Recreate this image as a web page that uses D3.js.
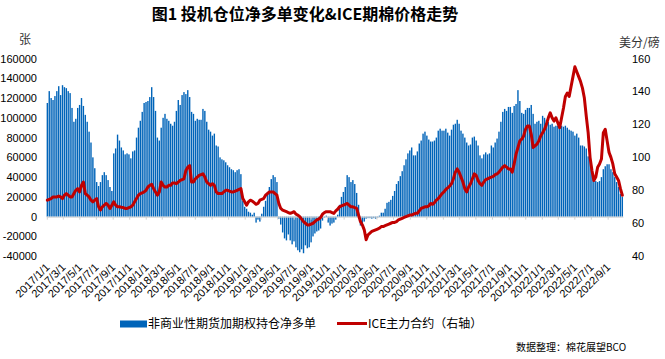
<!DOCTYPE html>
<html><head><meta charset="utf-8">
<script src="https://cdn.jsdelivr.net/npm/d3@7"></script>
<style>
body{margin:0;background:#fff;}
svg{display:block;font-family:"Liberation Sans",Arial,"Noto Sans CJK SC",sans-serif;}
</style></head><body>
<svg id="c" width="665" height="359"></svg>
<script>
// ---- data ----
const firstWeek = "2017-01-03"; // weekly (Tuesday) reports
const netLong = [
115000,127000,120000,118000,122000,127000,132000,123000,133000,131000,
130000,127000,125000,110000,96000,99000,110000,113000,120000,112000,
103000,96000,86000,75000,60000,49000,35000,31000,35000,42000,
45000,42000,37000,30000,26000,64000,69000,83000,77000,70000,
67000,63000,64000,63000,59000,66000,67000,80000,90000,97000,
106000,115000,116000,117000,121000,131000,121000,107000,80000,77000,
90000,100000,104000,99000,97000,94000,92000,96000,107000,118000,
113000,123000,126000,124000,128000,121000,106000,104000,97000,99000,
98000,98000,109000,107000,96000,88000,86000,82000,84000,72000,
71000,60000,58000,57000,55000,52000,50000,48000,47000,45000,
47000,48000,43000,16000,10000,8000,5000,4000,2000,4000,
-6000,-3000,-5000,3000,10000,16000,25000,30000,38000,42000,
40000,35000,-2000,-8000,-16000,-22000,-24000,-18000,-24000,-28000,
-25000,-31000,-34000,-36000,-33000,-37000,-29000,-32000,-31000,-26000,
-20000,-17000,-15000,-14000,-12000,-4000,-1000,1000,-6000,-9000,
-7000,-6000,-3000,2000,12000,20000,25000,30000,42000,40000,
35000,37000,33000,24000,12000,-9000,-7000,-5000,-2000,-1500,
-1500,-2000,-1500,-2000,-1000,1000,4000,4000,8000,14000,
15000,17000,21000,26000,33000,36000,41000,46000,52000,58000,
64000,67000,70000,62000,62000,66000,74000,77000,84000,86000,
82000,78000,76000,76000,77000,80000,87000,89000,87000,87000,
89000,85000,82000,88000,93000,94000,98000,94000,87000,84000,
80000,75000,72000,73000,80000,81000,77000,72000,62000,59000,
63000,65000,63000,64000,72000,70000,75000,79000,86000,96000,
106000,109000,107000,111000,111000,105000,112000,114000,128000,117000,
105000,104000,108000,110000,110000,113000,104000,94000,96000,97000,
94000,102000,100000,98000,96000,93000,94000,91000,92000,92000,
92000,92000,91000,92000,90000,88000,87000,86000,82000,84000,
80000,72000,72000,71000,69000,61000,57000,45000,39000,36000,
35000,36000,40000,48000,51000,53000,53000,48000,45000,40000,
35000,30000,23000,20000];
const icePrice = [
74,74.5,75,76,76,76,76.5,76,75,77,
78,77,76,76,78,80,81,79,83,85,
78,77,76,74,73,74,75,70,68,70,
71,72,71,69,71,73,71,70,70,69.7,
69.5,69,69,69.5,70,71,73,75,77,78,
78.5,79,80,82,83,83.6,81,79,77,79,
85,83,82,82,83,83,84.5,84.5,84,85,
86,86.5,87,92,94,95,85,85,87,88,
89,89.5,90,88,85,84,83,84,83,79,
78,78,78,79,80,80,79.5,79,79,79.5,
80,80.5,81,75,73,71,73,74,73.5,72.5,
71.5,72,74,74.5,75,77,78,79,79,79,
78,77,72,69,68,67.5,67,66.5,66,66.5,
67,65.5,65,64,62.5,61,60,59,59,59.5,
60,61,62,62.5,63.5,65.5,66.5,67,67,67,
66.5,66,67.5,68.5,70,70.5,71,71.5,72,71,
70,70,69.5,69,65,61,59,56,50,53,
54,55,55.5,56,56.5,57,58,58,58.5,59,
59.5,60,60.5,60.5,61,62,62.5,63,63.5,64,
64.5,65,65,65.5,66,66,67.5,69,69.5,70,
70,70.5,72,71.5,72.5,74,75,76.5,78,79,
80.5,81.5,82.5,84,87,91,93,91,88,85,
81,79,82,84,87,90,89,86,84,83,
85,86.5,87,87.5,88,88.5,89.5,90,91,92.5,
94,95,94,93,93,91,96,102,106,110,
111,113,117,119,119,114,106,107,108,110,
113,115,117,120,124,127,124,122,124,121,
118,124,130,137,139,137,143,149,155,152,
149,146,142,136,125,115,100,92,86,88,
94,96,99,115,117,110,103,100,96,90,
88,86,81,77];
const xTickLabels = ["2017/1/1","2017/3/1","2017/5/1","2017/7/1","2017/9/1","2017/11/1",
"2018/1/1","2018/3/1","2018/5/1","2018/7/1","2018/9/1","2018/11/1",
"2019/1/1","2019/3/1","2019/5/1","2019/7/1","2019/9/1","2019/11/1",
"2020/1/1","2020/3/1","2020/5/1","2020/7/1","2020/9/1","2020/11/1",
"2021/1/1","2021/3/1","2021/5/1","2021/7/1","2021/9/1","2021/11/1",
"2022/1/1","2022/3/1","2022/5/1","2022/7/1","2022/9/1"];
const leftTicks = [160000,140000,120000,100000,80000,60000,40000,20000,0,-20000,-40000];
const rightTicks = [160,140,120,100,80,60,40];
const titleText = "图1  投机仓位净多单变化&ICE期棉价格走势";
const seriesNames = ["非商业性期货加期权持仓净多单","ICE主力合约（右轴）"];

// ---- chart ----
const svg = d3.select("#c");
const parse = d3.timeParse("%Y-%m-%d");
const parseTick = d3.timeParse("%Y/%m/%d");
const d0 = parse(firstWeek);
const weeks = netLong.map((_, i) => d3.timeDay.offset(d0, 7 * i));
const x = d3.scaleTime().domain([new Date(2017,0,1), new Date(2022,9,29)]).range([46.8, 623.4]);
const yL = d3.scaleLinear().domain([-40000,160000]).range([256.2,58.5]);
const yR = d3.scaleLinear().domain([40,160]).range([256.2,58.5]);
const blue = "#0064b9", red = "#c00000";

// bars
svg.append("g").selectAll("rect").data(netLong).join("rect")
  .attr("x", (d,i) => x(weeks[i]) - 0.7)
  .attr("width", 1.4)
  .attr("y", d => Math.min(yL(d), yL(0)))
  .attr("height", d => Math.abs(yL(d) - yL(0)))
  .attr("fill", blue);

// zero axis line with ticks
const tickDates = xTickLabels.map(s => parseTick(s));
const ax0 = svg.append("g").attr("transform", `translate(0,${yL(0)})`)
  .call(d3.axisBottom(x).tickValues(tickDates).tickSize(3).tickFormat(""));
ax0.select(".domain").attr("stroke","#d0d0d0").attr("d", `M${x.range()[0]},0.5H${x.range()[1]}`);
ax0.selectAll(".tick line").attr("stroke","#d0d0d0");

// x labels
const axB = svg.append("g").attr("transform", "translate(0,268)")
  .call(d3.axisBottom(x).tickValues(tickDates).tickSize(0).tickFormat((d,i) => xTickLabels[i]));
axB.select(".domain").remove();
axB.selectAll("text")
  .attr("y", 0).attr("dy", 0).attr("x", 0)
  .attr("text-anchor","end")
  .attr("transform","translate(3,0) rotate(-45)")
  .attr("font-size", 11).attr("fill","#000")
  .attr("font-family","'Liberation Sans',Arial,sans-serif");

// price line
const line = d3.line().x((d,i) => x(weeks[i])).y(d => yR(d));
svg.append("path").datum(icePrice).attr("d", line)
  .attr("fill","none").attr("stroke", red).attr("stroke-width", 3)
  .attr("stroke-linejoin","round").attr("stroke-linecap","round");

// left axis
const aL = svg.append("g").attr("transform","translate(40,0)")
  .call(d3.axisLeft(yL).tickValues(leftTicks).tickSize(0).tickPadding(3).tickFormat(d => d < 0 ? "-" + Math.abs(d) : String(d)));
aL.select(".domain").remove();
aL.selectAll("text").attr("font-size",11).attr("fill","#000").attr("font-family","'Liberation Sans',Arial,sans-serif");

// right axis
const aR = svg.append("g").attr("transform","translate(631,0)")
  .call(d3.axisRight(yR).tickValues(rightTicks).tickSize(0).tickPadding(1));
aR.select(".domain").remove();
aR.selectAll("text").attr("font-size",11).attr("fill","#000").attr("font-family","'Liberation Sans',Arial,sans-serif");

// titles / units
svg.append("text").attr("x",305).attr("y",14).attr("dy","0.35em").attr("text-anchor","middle")
  .attr("font-size",16).attr("font-weight","bold").attr("font-family","'Noto Sans CJK SC',sans-serif").text(titleText);
svg.append("text").attr("x",25).attr("y",40).attr("dy","0.35em").attr("text-anchor","middle")
  .attr("font-size",12).attr("font-family","'Noto Sans CJK SC',sans-serif").attr("fill","#333").text("张");
svg.append("text").attr("x",619).attr("y",43).attr("dy","0.35em")
  .attr("font-size",12).attr("font-family","'Noto Sans CJK SC',sans-serif").attr("fill","#333").text("美分/磅");

// legend
const lg = svg.append("g").attr("font-family","'Noto Sans CJK SC',sans-serif").attr("font-size",12);
lg.append("rect").attr("x",120).attr("y",320.5).attr("width",27).attr("height",7).attr("fill",blue);
lg.append("text").attr("x",148).attr("y",324).attr("dy","0.35em").text(seriesNames[0]);
lg.append("line").attr("x1",337).attr("x2",367).attr("y1",323.5).attr("y2",323.5).attr("stroke",red).attr("stroke-width",3);
lg.append("text").attr("x",368).attr("y",324).attr("dy","0.35em").text(seriesNames[1]);

svg.append("text").attr("x",516).attr("y",347).attr("dy","0.35em")
  .attr("font-size",10).attr("font-family","'Noto Sans CJK SC',sans-serif").text("数据整理：棉花展望BCO");
</script>
</body></html>
